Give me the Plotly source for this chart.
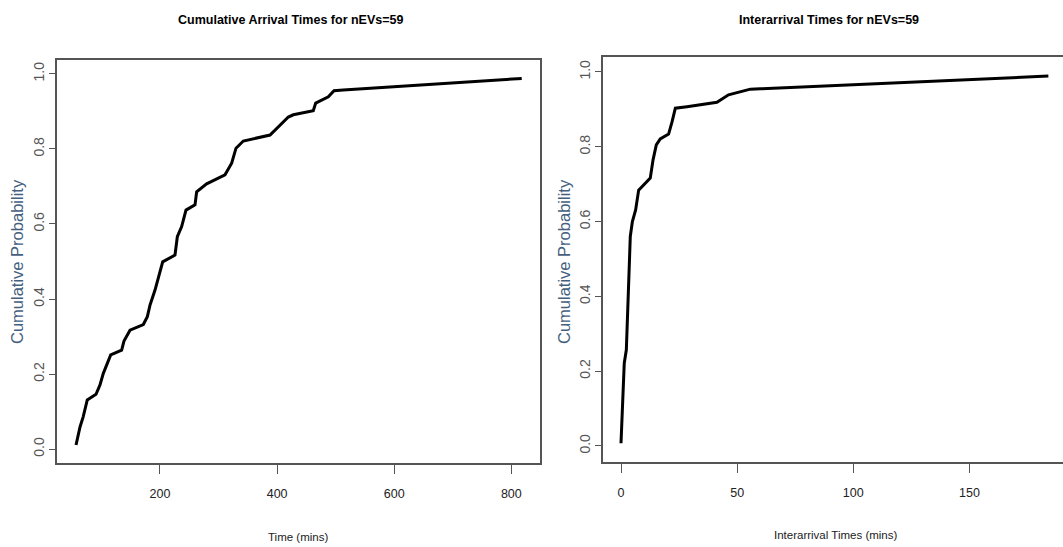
import plotly.graph_objects as go

W, H = 1063, 547

# Left panel: cumulative arrival times (ECDF)
arrival_time = [56.6, 63.4, 68.8, 75.8, 90.7, 97.5, 103.2, 110, 115.8, 134.5, 138.5, 148.8,
                171.5, 178.4, 183, 191.5, 197.2, 204.6, 225.6, 229.6, 237, 244.4, 259.8,
                262.6, 279.7, 311, 322.4, 329.8, 342.3, 387.9, 419.2, 427.7, 461.8, 465.9,
                487.5, 497.2, 513, 817.8]
arrival_prob = [0.011, 0.059, 0.086, 0.131, 0.146, 0.171, 0.202, 0.229, 0.251, 0.264, 0.288,
                0.317, 0.332, 0.353, 0.384, 0.424, 0.459, 0.499, 0.517, 0.566, 0.593, 0.637,
                0.651, 0.686, 0.707, 0.731, 0.762, 0.802, 0.821, 0.837, 0.885, 0.891, 0.902,
                0.922, 0.939, 0.955, 0.957, 0.988]

# Right panel: interarrival times (ECDF)
inter_time = [0, 0.7, 1.4, 2.3, 2.9, 3.3, 4.0, 4.9, 6.3, 7.6, 12.6, 13.8, 15.2, 16.9, 20.5,
              22.0, 23.4, 28.4, 41.3, 46.3, 55.7, 60, 98.7, 184]
inter_prob = [0.007, 0.114, 0.221, 0.257, 0.355, 0.462, 0.560, 0.600, 0.631, 0.684, 0.716,
              0.765, 0.805, 0.821, 0.834, 0.867, 0.903, 0.907, 0.919, 0.939, 0.954, 0.955,
              0.965, 0.989]

left_title = "Cumulative Arrival Times for nEVs=59"
right_title = "Interarrival Times for nEVs=59"
left_xtitle = "Time (mins)"
right_xtitle = "Interarrival Times (mins)"
ytitle = "Cumulative Probability"
left_xticks = [200, 400, 600, 800]
right_xticks = [0, 50, 100, 150]
yticks = [0.0, 0.2, 0.4, 0.6, 0.8, 1.0]
yticklabels = ["0.0", "0.2", "0.4", "0.6", "0.8", "1.0"]

NARROW = "Liberation Sans Narrow, Arial Narrow, Liberation Sans, sans-serif"
REG = "Liberation Sans, Arial, sans-serif"
AX = "#555555"

fig = go.Figure()
fig.add_trace(go.Scatter(x=arrival_time, y=arrival_prob, mode="lines",
                         line=dict(color="black", width=3), xaxis="x", yaxis="y",
                         showlegend=False))
fig.add_trace(go.Scatter(x=inter_time, y=inter_prob, mode="lines",
                         line=dict(color="black", width=3), xaxis="x2", yaxis="y2",
                         showlegend=False))

xcommon = dict(showgrid=False, zeroline=False, showline=True, linecolor=AX, linewidth=1.5,
               ticks="outside", ticklen=9, tickcolor=AX, tickwidth=1.2, ticklabelstandoff=9,
               tickfont=dict(family=NARROW, size=12.5, color="#222222"))
ycommon = dict(showgrid=False, zeroline=False, showline=True, linecolor=AX, linewidth=1.5,
               ticks="outside", ticklen=6, tickcolor=AX, tickwidth=1.2,
               tickvals=yticks, ticktext=yticklabels, tickangle=-90,
               tickfont=dict(family=REG, size=14, color="#555555"))

fig.update_layout(
    width=W, height=H,
    margin=dict(l=0, r=0, t=0, b=0),
    paper_bgcolor="white", plot_bgcolor="white",
    xaxis=dict(domain=[57 / W, 540 / W], range=[24.1, 849], tickvals=left_xticks,
               mirror=True, anchor="y", **xcommon),
    yaxis=dict(domain=[1 - 463 / H, 1 - 60 / H], range=[-0.037, 1.037], mirror=True,
               anchor="x", **ycommon),
    xaxis2=dict(domain=[603 / W, 1.0], range=[-7.75, 190.3], tickvals=right_xticks,
                mirror=True, anchor="y2", **xcommon),
    yaxis2=dict(domain=[1 - 462 / H, 1 - 57 / H], range=[-0.043, 1.040], mirror=False,
                anchor="x2", **ycommon),
)

def ann(text, x, y, font, angle=0):
    fig.add_annotation(text=text, x=x / W, y=1 - y / H, xref="paper", yref="paper",
                       xanchor="center", yanchor="middle", showarrow=False,
                       textangle=angle, font=font)

title_font = dict(family=NARROW, size=12.5, color="black")
ann("<b>" + left_title + "</b>", 290, 20, title_font)
ann("<b>" + right_title + "</b>", 829, 20, title_font)
ann(left_xtitle, 298, 537, dict(family=NARROW, size=11.5, color="#222222"))
ann(right_xtitle, 835, 535, dict(family=NARROW, size=11.5, color="#222222"))
ann(ytitle, 17, 262, dict(family=REG, size=16.5, color="#44607e"), angle=-90)
ann(ytitle, 564, 262, dict(family=REG, size=16.5, color="#44607e"), angle=-90)

fig.write_html("out.html", config={"displayModeBar": False},
               post_script="document.body.style.margin='0px';")
